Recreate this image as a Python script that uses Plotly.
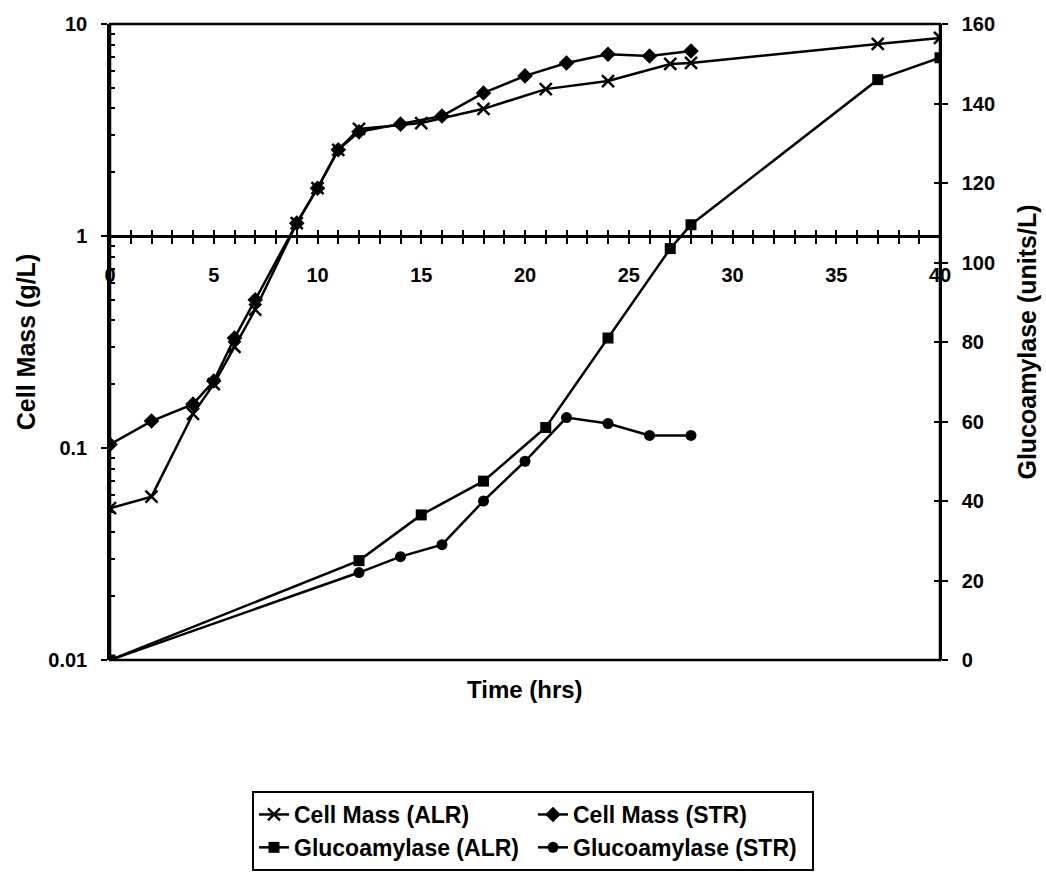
import plotly.graph_objects as go

# Sampling times (hrs) for each series
t_cm_alr = [0, 2, 4, 5, 6, 7, 9, 10, 11, 12, 15, 18, 21, 24, 27, 28, 37, 40]
t_cm_str = [0, 2, 4, 5, 6, 7, 9, 10, 11, 12, 14, 16, 18, 20, 22, 24, 26, 28]
t_ga_alr = [0, 12, 15, 18, 21, 24, 27, 28, 37, 40]
t_ga_str = [0, 12, 14, 16, 18, 20, 22, 24, 26, 28]

# Cell mass (g/L), log axis
cm_alr = [0.052, 0.059, 0.145, 0.20, 0.30, 0.45, 1.15, 1.68, 2.55, 3.2,
          3.41, 3.98, 4.93, 5.38, 6.48, 6.55, 8.05, 8.6]
cm_str = [0.104, 0.134, 0.161, 0.207, 0.33, 0.50, 1.15, 1.68, 2.55, 3.1,
          3.37, 3.68, 4.73, 5.69, 6.55, 7.2, 7.06, 7.46]

# Glucoamylase activity (units/L), linear right axis
ga_alr = [0, 25, 36.5, 45, 58.5, 81, 103.5, 109.5, 146, 151.5]
ga_str = [0, 22, 26, 29, 40, 50, 61, 59.5, 56.5, 56.5]

# Axis ticks
x_ticks = list(range(0, 41))
x_labels = [str(v) if v % 5 == 0 else "" for v in x_ticks]
y_log_ticks = [0.01, 0.1, 1, 10]
y_log_labels = ["0.01", "0.1", "1", "10"]
y_log_minor = [m * d for d in (0.01, 0.1, 1) for m in range(2, 10)]
y_lin_ticks = list(range(0, 161, 20))

FONT = "Liberation Sans, Arial, Helvetica, sans-serif"
LW = 2.5
X_RANGE = [0, 40]
Y_LIN_RANGE = [0, 160]

fig = go.Figure()

fig.add_trace(go.Scatter(
    x=t_cm_alr, y=cm_alr, name="Cell Mass (ALR)", mode="lines+markers",
    line=dict(color="black", width=LW),
    marker=dict(symbol="x-thin", size=12, color="black",
                line=dict(color="black", width=2.5)),
    xaxis="x", yaxis="y"))
fig.add_trace(go.Scatter(
    x=t_cm_str, y=cm_str, name="Cell Mass (STR)", mode="lines+markers",
    line=dict(color="black", width=LW),
    marker=dict(symbol="diamond", size=12, color="black"),
    xaxis="x", yaxis="y"))
# Glucoamylase series use twin axes with identical ranges so that the
# inner halves of the crossing ticks get drawn
fig.add_trace(go.Scatter(
    x=t_ga_alr, y=ga_alr, name="Glucoamylase (ALR)", mode="lines+markers",
    line=dict(color="black", width=LW),
    marker=dict(symbol="square", size=11, color="black"),
    xaxis="x", yaxis="y3"))
fig.add_trace(go.Scatter(
    x=t_ga_str, y=ga_str, name="Glucoamylase (STR)", mode="lines+markers",
    line=dict(color="black", width=LW),
    marker=dict(symbol="circle", size=11, color="black"),
    xaxis="x2", yaxis="y2"))

fig.update_layout(
    width=1046, height=876,
    margin=dict(l=110, r=106, t=24, b=216, autoexpand=False),
    paper_bgcolor="white", plot_bgcolor="white",
    font=dict(family=FONT, size=20, color="black", weight="bold"),
    showlegend=True,
    legend=dict(
        orientation="h", xref="container", yref="container",
        x=252 / 1046, xanchor="left", y=1 - 791 / 876, yanchor="top",
        bordercolor="black", borderwidth=2, bgcolor="white",
        font=dict(size=23, family=FONT, weight="bold"),
        entrywidth=234, entrywidthmode="pixels", itemwidth=30,
        traceorder="normal", tracegroupgap=0,
    ),
    # Time axis crossing the log axis at 1 g/L
    xaxis=dict(
        range=X_RANGE, anchor="free", position=2 / 3, automargin=False,
        tickmode="array", tickvals=x_ticks, ticktext=x_labels,
        ticks="outside", ticklen=6, tickwidth=2, tickcolor="black",
        showline=True, linecolor="black", linewidth=LW,
        showgrid=False, zeroline=False, ticklabelstandoff=14,
        tickfont=dict(size=20),
    ),
    xaxis2=dict(
        range=X_RANGE, overlaying="x", anchor="free", position=2 / 3, automargin=False,
        tickmode="array", tickvals=x_ticks, showticklabels=False,
        ticks="inside", ticklen=6, tickwidth=2, tickcolor="black",
        showline=False, showgrid=False, zeroline=False,
    ),
    yaxis=dict(
        type="log", range=[-2, 1], automargin=False,
        tickmode="array", tickvals=y_log_ticks, ticktext=y_log_labels,
        ticks="outside", ticklen=6, tickwidth=2, tickcolor="black",
        minor=dict(tickmode="array", tickvals=y_log_minor, ticks="inside",
                   ticklen=5, tickwidth=2, tickcolor="black", showgrid=False),
        showline=True, linecolor="black", linewidth=LW,
        showgrid=False, zeroline=False, ticklabelstandoff=10,
        title=dict(text="Cell Mass (g/L)", font=dict(size=25), standoff=6),
    ),
    yaxis2=dict(
        range=Y_LIN_RANGE, overlaying="y", side="right", anchor="free", position=1,
        automargin=False,
        tickmode="array", tickvals=y_lin_ticks,
        ticks="outside", ticklen=6, tickwidth=2, tickcolor="black",
        showline=True, linecolor="black", linewidth=LW,
        showgrid=False, zeroline=False, ticklabelstandoff=10,
        title=dict(text="Glucoamylase (units/L)", font=dict(size=25), standoff=24),
    ),
    yaxis3=dict(
        range=Y_LIN_RANGE, overlaying="y", side="right", anchor="free", position=1,
        automargin=False,
        tickmode="array", tickvals=y_lin_ticks, showticklabels=False,
        ticks="inside", ticklen=6, tickwidth=2, tickcolor="black",
        showline=False, showgrid=False, zeroline=False,
    ),
    # Plot frame
    shapes=[dict(type="rect", xref="paper", yref="paper", x0=0, x1=1, y0=0, y1=1,
                 line=dict(color="black", width=LW), fillcolor="rgba(0,0,0,0)",
                 layer="below")],
    annotations=[dict(text="Time (hrs)", xref="paper", yref="paper",
                      x=0.5, y=-0.047, xanchor="center", yanchor="middle",
                      showarrow=False, font=dict(size=24, family=FONT, weight="bold"))],
)

fig.write_html("out.html")
